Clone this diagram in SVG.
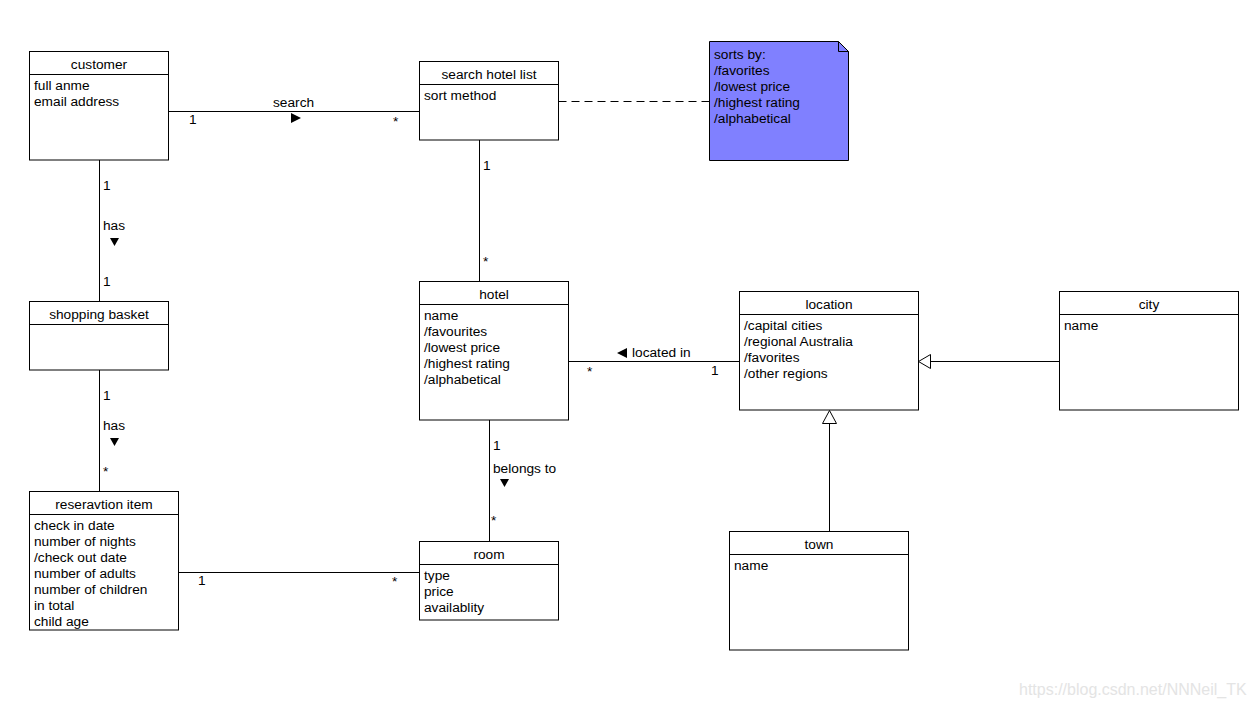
<svg xmlns="http://www.w3.org/2000/svg" width="1257" height="707" viewBox="0 0 1257 707">
<style>
  text { font-family: "Liberation Sans", Arial, sans-serif; font-size: 13.7px; fill: #000; }
  .title { text-anchor: middle; }
  .box { fill: #fff; stroke: #000; stroke-width: 1; }
  .sep { stroke: #000; stroke-width: 1; }
  .line { stroke: #000; stroke-width: 1; fill: none; }
  .dash { stroke: #000; stroke-width: 1; fill: none; stroke-dasharray: 8 5; }
  .tri { fill: #000; stroke: none; }
  .hollow { fill: #fff; stroke: #000; stroke-width: 1; }
  .note { fill: #8080ff; stroke: #000; stroke-width: 1; }
  .wm { fill: #e4e4e4; font-size: 16px; }
</style>
<rect width="1257" height="707" fill="#fff"/>

<g id="connectors">
  <!-- customer - search hotel list -->
  <line class="line" x1="168.5" y1="111.5" x2="419.5" y2="111.5"/>
  <text x="273" y="107">search</text>
  <polygon class="tri" points="291,113 301,118 291,123"/>
  <text x="189" y="124">1</text>
  <text x="393" y="126">*</text>

  <!-- note dashed -->
  <line class="dash" x1="558.5" y1="101.5" x2="709.5" y2="101.5"/>

  <!-- customer - shopping basket -->
  <line class="line" x1="99.5" y1="160" x2="99.5" y2="301.5"/>
  <text x="103" y="190">1</text>
  <text x="103" y="230">has</text>
  <polygon class="tri" points="110,238 119,238 114.5,246"/>
  <text x="103" y="286">1</text>

  <!-- shopping basket - reservation item -->
  <line class="line" x1="99.5" y1="370" x2="99.5" y2="491.5"/>
  <text x="103" y="400">1</text>
  <text x="103" y="430">has</text>
  <polygon class="tri" points="110,438 119,438 114.5,446"/>
  <text x="103" y="476">*</text>

  <!-- search hotel list - hotel -->
  <line class="line" x1="479.5" y1="140" x2="479.5" y2="281.5"/>
  <text x="483" y="170">1</text>
  <text x="483" y="266">*</text>

  <!-- hotel - room -->
  <line class="line" x1="489.5" y1="420" x2="489.5" y2="541.5"/>
  <text x="493" y="450">1</text>
  <text x="493" y="473">belongs to</text>
  <polygon class="tri" points="500,479 509,479 504.5,487"/>
  <text x="491" y="525">*</text>

  <!-- hotel - location -->
  <line class="line" x1="568.5" y1="361.5" x2="739.5" y2="361.5"/>
  <polygon class="tri" points="627,348 627,358 617,353"/>
  <text x="632" y="357">located in</text>
  <text x="587" y="376">*</text>
  <text x="711" y="375">1</text>

  <!-- reservation item - room -->
  <line class="line" x1="178.5" y1="572.5" x2="419.5" y2="572.5"/>
  <text x="198" y="585">1</text>
  <text x="392" y="586">*</text>

  <!-- city generalization to location -->
  <line class="line" x1="930" y1="361.5" x2="1059.5" y2="361.5"/>
  <polygon class="hollow" points="918.5,361.5 930.5,354.5 930.5,368.5"/>

  <!-- town generalization to location -->
  <line class="line" x1="829.5" y1="423" x2="829.5" y2="531.5"/>
  <polygon class="hollow" points="829.5,410.5 822.5,423.5 836.5,423.5"/>
</g>

<g id="customer">
  <rect class="box" x="29.5" y="51.5" width="139" height="108.5"/>
  <line class="sep" x1="29.5" y1="74.5" x2="168.5" y2="74.5"/>
  <text class="title" x="99" y="68.5">customer</text>
  <text x="34" y="90">full anme</text>
  <text x="34" y="106">email address</text>
</g>

<g id="search-hotel-list">
  <rect class="box" x="419.5" y="61.5" width="139" height="78.5"/>
  <line class="sep" x1="419.5" y1="84.5" x2="558.5" y2="84.5"/>
  <text class="title" x="489" y="78.5">search hotel list</text>
  <text x="424" y="100">sort method</text>
</g>

<g id="note">
  <polygon class="note" points="709.5,41.5 838.5,41.5 848.5,51.5 848.5,160.5 709.5,160.5"/>
  <polyline class="line" points="838.5,41.5 838.5,51.5 848.5,51.5"/>
  <text x="714" y="59">sorts by:</text>
  <text x="714" y="75">/favorites</text>
  <text x="714" y="91">/lowest price</text>
  <text x="714" y="107">/highest rating</text>
  <text x="714" y="123">/alphabetical</text>
</g>

<g id="shopping-basket">
  <rect class="box" x="29.5" y="301.5" width="139" height="68.5"/>
  <line class="sep" x1="29.5" y1="324.5" x2="168.5" y2="324.5"/>
  <text class="title" x="99" y="318.5">shopping basket</text>
</g>

<g id="reservation-item">
  <rect class="box" x="29.5" y="491.5" width="149" height="138.5"/>
  <line class="sep" x1="29.5" y1="514.5" x2="178.5" y2="514.5"/>
  <text class="title" x="104" y="508.5">reseravtion item</text>
  <text x="34" y="530">check in date</text>
  <text x="34" y="546">number of nights</text>
  <text x="34" y="562">/check out date</text>
  <text x="34" y="578">number of adults</text>
  <text x="34" y="594">number of children</text>
  <text x="34" y="610">in total</text>
  <text x="34" y="626">child age</text>
</g>

<g id="hotel">
  <rect class="box" x="419.5" y="281.5" width="149" height="138.5"/>
  <line class="sep" x1="419.5" y1="304.5" x2="568.5" y2="304.5"/>
  <text class="title" x="494" y="298.5">hotel</text>
  <text x="424" y="320">name</text>
  <text x="424" y="336">/favourites</text>
  <text x="424" y="352">/lowest price</text>
  <text x="424" y="368">/highest rating</text>
  <text x="424" y="384">/alphabetical</text>
</g>

<g id="room">
  <rect class="box" x="419.5" y="541.5" width="139" height="78.5"/>
  <line class="sep" x1="419.5" y1="564.5" x2="558.5" y2="564.5"/>
  <text class="title" x="489" y="558.5">room</text>
  <text x="424" y="580">type</text>
  <text x="424" y="596">price</text>
  <text x="424" y="612">availablity</text>
</g>

<g id="location">
  <rect class="box" x="739.5" y="291.5" width="179" height="118.5"/>
  <line class="sep" x1="739.5" y1="314.5" x2="918.5" y2="314.5"/>
  <text class="title" x="829" y="308.5">location</text>
  <text x="744" y="330">/capital cities</text>
  <text x="744" y="346">/regional Australia</text>
  <text x="744" y="362">/favorites</text>
  <text x="744" y="378">/other regions</text>
</g>

<g id="city">
  <rect class="box" x="1059.5" y="291.5" width="179" height="118.5"/>
  <line class="sep" x1="1059.5" y1="314.5" x2="1238.5" y2="314.5"/>
  <text class="title" x="1149" y="308.5">city</text>
  <text x="1064" y="330">name</text>
</g>

<g id="town">
  <rect class="box" x="729.5" y="531.5" width="179" height="118.5"/>
  <line class="sep" x1="729.5" y1="554.5" x2="908.5" y2="554.5"/>
  <text class="title" x="819" y="548.5">town</text>
  <text x="734" y="570">name</text>
</g>

<text class="wm" x="1019" y="695">https://blog.csdn.net/NNNeil_TK</text>
</svg>
